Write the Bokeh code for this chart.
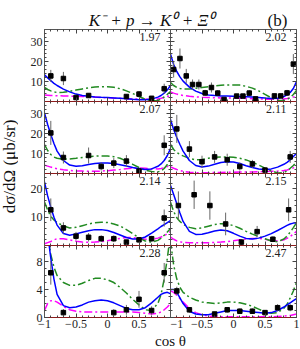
import math
from bokeh.plotting import figure
from bokeh.layouts import row, column
from bokeh.models import LinearAxis, FixedTicker, CustomJSTickFormatter, Label, Range1d
from bokeh.embed import file_html
from bokeh.resources import INLINE

# ---------------- data ----------------
energies = ["1.97", "2.02", "2.07", "2.11", "2.14", "2.15", "2.28", "2.47"]
title_text = "K\u207b + p \u2192 K\u2070 + \u039e\u2070"
panel_tag = "(b)"
x_label = "cos \u03b8"
y_label = "d\u03c3/d\u03a9 (\u03bcb/sr)"

x_major = [-1, -0.5, 0, 0.5, 1]
row_top = [36, 36, 25.4, 10.3]
y_major_rows = [[0, 10, 20, 30], [0, 10, 20, 30], [0, 10, 20], [0, 4, 8]]

curve_x = [-1, -0.95, -0.9, -0.85, -0.8, -0.7, -0.6, -0.5, -0.4, -0.3, -0.2, -0.1, 0,
           0.1, 0.2, 0.3, 0.4, 0.5, 0.6, 0.7, 0.8, 0.85, 0.9, 0.95, 1.0]

blue_197 = [13.3, 11.8, 10.4, 9.1, 8.0, 6.2, 4.8, 3.7, 3.0, 2.6, 2.3, 2.1, 2.0, 1.8, 1.6, 1.4, 1.1, 0.9, 0.85, 1.2, 2.2, 3.0, 4.2, 5.8, 8.0]
green_197 = [7.0, 6.0, 5.3, 4.8, 4.5, 4.6, 5.1, 5.7, 6.3, 6.8, 7.2, 7.4, 7.4, 7.1, 6.4, 5.3, 4.0, 2.5, 1.1, 0.3, 0.5, 1.2, 2.3, 3.6, 5.0]
magenta_197 = [3.2, 3.1, 3.0, 2.95, 2.9, 2.8, 2.7, 2.6, 2.5, 2.4, 2.2, 2.0, 1.9, 1.7, 1.6, 1.4, 1.3, 1.2, 1.1, 1.1, 1.3, 1.6, 2.0, 2.5, 3.0]
pts_x_197 = [-0.9, -0.7, -0.5, -0.3, 0.3, 0.5, 0.7, 0.9]
pts_y_197 = [12.8, 11.5, 2.0, 3.0, 2.5, 3.7, 1.6, 6.4]
pts_e_197 = [3.0, 3.3, 1.0, 1.0, 1.0, 1.5, 1.0, 2.5]

blue_202 = [23.7, 18.5, 15.0, 12.3, 10.2, 7.2, 5.2, 4.0, 3.3, 3.0, 2.8, 2.7, 2.6, 2.5, 2.4, 2.2, 2.0, 1.7, 1.5, 1.6, 2.5, 3.3, 4.5, 6.5, 10.0]
green_202 = [9.5, 8.0, 7.0, 6.5, 6.2, 6.2, 6.6, 7.0, 7.4, 7.8, 8.1, 8.3, 8.3, 8.2, 7.6, 6.7, 5.3, 3.6, 1.8, 0.6, 0.5, 1.0, 2.0, 3.5, 5.5]
magenta_202 = [4.8, 4.2, 3.7, 3.3, 3.0, 2.6, 2.3, 2.1, 2.0, 1.9, 1.8, 1.8, 1.7, 1.6, 1.5, 1.4, 1.3, 1.2, 1.1, 1.1, 1.3, 1.5, 1.8, 2.2, 2.8]
pts_x_202 = [-0.95, -0.85, -0.75, -0.65, -0.55, -0.45, -0.35, -0.25, -0.15, 0.05, 0.15, 0.25, 0.35, 0.65, 0.75, 0.85, 0.95]
pts_y_202 = [16.0, 21.5, 12.8, 8.5, 8.5, 4.3, 7.0, 4.2, 1.0, 2.7, 2.7, 4.2, 1.3, 2.8, 2.8, 4.3, 18.7]
pts_e_202 = [4.0, 5.0, 3.5, 2.5, 2.5, 1.5, 2.5, 1.5, 0.7, 1.0, 1.0, 1.5, 0.7, 1.0, 1.0, 1.5, 5.0]

blue_207 = [30.3, 24.5, 19.5, 15.0, 11.2, 6.5, 4.2, 3.6, 3.9, 4.5, 5.0, 5.3, 5.3, 5.0, 4.4, 3.8, 3.0, 2.4, 2.0, 2.3, 3.6, 4.8, 6.5, 9.0, 12.5]
green_207 = [14.5, 11.5, 9.5, 8.2, 7.6, 7.2, 7.3, 7.6, 8.0, 8.4, 8.7, 8.8, 8.7, 8.4, 7.6, 6.2, 4.6, 3.0, 1.7, 1.0, 0.8, 1.3, 2.5, 4.5, 7.5]
magenta_207 = [4.2, 3.7, 3.2, 2.8, 2.4, 1.9, 1.5, 1.3, 1.2, 1.1, 1.1, 1.2, 1.4, 1.7, 2.0, 2.4, 2.6, 2.7, 2.6, 2.4, 2.3, 2.5, 2.9, 3.5, 4.3]
pts_x_207 = [-0.9, -0.7, -0.3, -0.1, 0.1, 0.3, 0.5, 0.9]
pts_y_207 = [20.3, 8.0, 9.0, 3.5, 5.2, 6.2, 1.2, 14.1]
pts_e_207 = [6.0, 3.0, 4.0, 2.0, 2.5, 3.0, 1.0, 5.0]

blue_211 = [27.0, 22.0, 18.0, 14.5, 11.2, 6.5, 4.0, 3.3, 3.7, 4.6, 5.5, 5.9, 5.8, 5.0, 3.9, 3.0, 2.3, 2.0, 2.3, 3.2, 4.6, 5.6, 6.8, 8.5, 10.0]
green_211 = [14.5, 12.0, 10.5, 9.5, 8.8, 7.5, 6.8, 7.0, 7.6, 8.1, 8.3, 8.3, 8.1, 7.6, 6.8, 5.6, 4.2, 2.7, 1.3, 0.3, 0.5, 1.3, 2.6, 4.0, 5.8]
magenta_211 = [3.3, 2.6, 2.0, 1.5, 1.1, 0.6, 0.4, 0.4, 0.4, 0.5, 0.5, 0.6, 0.6, 0.7, 0.7, 0.8, 0.9, 1.0, 1.1, 1.2, 1.5, 1.8, 2.2, 2.8, 3.5]
pts_x_211 = [-0.9, -0.7, -0.5, -0.3, -0.1, 0.1, 0.3, 0.5, 0.9]
pts_y_211 = [22.3, 12.2, 5.9, 8.3, 6.9, 3.5, 4.8, 1.7, 8.3]
pts_e_211 = [7.0, 4.0, 3.0, 3.0, 3.0, 2.0, 2.0, 1.0, 3.0]

blue_214 = [22.4, 17.5, 13.5, 10.0, 7.2, 4.2, 3.6, 4.1, 4.7, 5.2, 5.6, 5.6, 5.3, 4.6, 3.7, 2.8, 2.3, 2.3, 3.0, 4.4, 5.9, 6.7, 7.4, 8.1, 8.8]
green_214 = [15.3, 12.5, 10.3, 9.0, 8.1, 6.9, 6.2, 6.4, 7.0, 7.6, 8.0, 8.2, 8.1, 7.6, 6.9, 5.6, 4.2, 2.7, 1.6, 1.2, 1.8, 2.6, 3.6, 4.8, 6.0]
magenta_214 = [0.6, 1.0, 1.4, 2.0, 2.4, 2.4, 2.0, 1.5, 1.2, 1.1, 1.2, 1.4, 1.7, 2.1, 2.5, 2.8, 2.8, 2.5, 2.2, 2.2, 2.6, 3.0, 3.5, 4.2, 5.0]
pts_x_214 = [-0.9, -0.7, -0.5, -0.3, -0.1, 0.1, 0.3, 0.5, 0.7, 0.9]
pts_y_214 = [12.6, 6.2, 3.3, 2.9, 2.4, 2.4, 1.2, 2.0, 2.4, 9.7]
pts_e_214 = [4.0, 2.0, 1.5, 1.5, 1.2, 1.2, 0.7, 1.0, 1.0, 3.0]

blue_215 = [21.2, 18.0, 14.7, 11.5, 8.5, 5.0, 3.9, 4.0, 4.5, 5.1, 5.5, 5.2, 4.3, 3.3, 2.5, 2.3, 2.6, 3.3, 4.2, 5.3, 6.5, 7.1, 7.6, 7.9, 8.0]
green_215 = [15.3, 12.0, 9.8, 8.5, 7.5, 6.4, 5.9, 6.2, 6.8, 7.4, 7.7, 7.6, 7.0, 6.1, 5.0, 4.0, 3.2, 2.4, 1.6, 1.3, 2.3, 3.3, 4.7, 6.3, 8.0]
magenta_215 = [3.0, 2.2, 1.6, 1.3, 1.1, 1.0, 1.0, 1.0, 1.0, 1.1, 1.2, 1.4, 1.7, 2.0, 2.3, 2.5, 2.5, 2.2, 1.8, 1.6, 2.0, 2.5, 3.2, 4.0, 5.0]
pts_x_215 = [-0.875, -0.625, -0.375, -0.125, 0.125, 0.375, 0.625, 0.875]
pts_y_215 = [14.1, 17.9, 14.1, 7.6, 1.2, 4.9, 2.2, 12.6]
pts_e_215 = [5.0, 5.0, 5.0, 4.0, 1.0, 2.0, 1.0, 4.0]

blue_228 = [16.0, 12.0, 8.5, 5.5, 3.3, 1.7, 1.4, 1.5, 1.8, 2.2, 2.4, 2.5, 2.4, 2.1, 1.7, 1.3, 1.1, 1.1, 1.4, 2.1, 2.9, 3.3, 3.5, 3.6, 3.4]
green_228 = [16.0, 12.0, 9.0, 7.2, 6.0, 5.0, 4.6, 4.6, 4.9, 5.3, 5.6, 5.6, 5.4, 5.0, 4.3, 3.5, 2.6, 1.8, 1.1, 1.0, 2.0, 3.3, 5.5, 8.5, 12.0]
magenta_228 = [1.0, 2.0, 2.4, 2.4, 2.2, 1.6, 1.1, 0.9, 0.8, 0.8, 0.8, 0.8, 0.8, 0.8, 0.8, 0.8, 0.8, 0.7, 0.6, 0.5, 0.6, 0.8, 1.1, 1.5, 2.0]
pts_x_228 = [-0.9, -0.7, 0.1, 0.3, 0.5, 0.7, 0.9]
pts_y_228 = [6.4, 0.7, 0.7, 1.1, 2.6, 1.0, 6.4]
pts_e_228 = [1.7, 0.5, 0.5, 0.7, 1.2, 0.6, 1.4]

blue_247 = [4.0, 4.0, 3.6, 2.8, 2.0, 0.9, 0.5, 0.4, 0.4, 0.6, 0.8, 1.0, 1.0, 1.0, 0.9, 0.8, 0.7, 0.6, 0.7, 1.0, 1.5, 1.8, 2.1, 2.4, 2.7]
green_247 = [11.0, 7.5, 5.5, 4.3, 3.6, 2.9, 2.5, 2.2, 2.1, 2.0, 2.1, 2.2, 2.2, 2.1, 1.9, 1.6, 1.2, 0.8, 0.6, 0.7, 1.3, 1.9, 2.8, 3.8, 5.0]
magenta_247 = [3.8, 3.6, 3.2, 2.7, 2.2, 1.3, 0.7, 0.4, 0.2, 0.15, 0.1, 0.1, 0.1, 0.1, 0.1, 0.1, 0.1, 0.1, 0.1, 0.15, 0.2, 0.25, 0.3, 0.4, 0.5]
pts_x_247 = [-0.9, -0.7, -0.3, -0.1, 0.1, 0.3, 0.5, 0.7, 0.9]
pts_y_247 = [3.8, 1.1, 0.5, 1.1, 0.9, 0.9, 0.7, 1.4, 1.4]
pts_e_247 = [0.6, 0.4, 0.3, 0.4, 0.4, 0.4, 0.3, 0.5, 0.5]

panels = [
    (blue_197, green_197, magenta_197, pts_x_197, pts_y_197, pts_e_197),
    (blue_202, green_202, magenta_202, pts_x_202, pts_y_202, pts_e_202),
    (blue_207, green_207, magenta_207, pts_x_207, pts_y_207, pts_e_207),
    (blue_211, green_211, magenta_211, pts_x_211, pts_y_211, pts_e_211),
    (blue_214, green_214, magenta_214, pts_x_214, pts_y_214, pts_e_214),
    (blue_215, green_215, magenta_215, pts_x_215, pts_y_215, pts_e_215),
    (blue_228, green_228, magenta_228, pts_x_228, pts_y_228, pts_e_228),
    (blue_247, green_247, magenta_247, pts_x_247, pts_y_247, pts_e_247),
]

# ---------------- style / layout ----------------
FONT = "Liberation Serif"
FRAME_W = 126
ROW_H = 72
YLAB_W = 18
LEFT_B = 26
RIGHT_B = 4
BOTTOM_B = 15
TITLE_H = 29
XLAB_H = 17
TOTAL_W = YLAB_W + LEFT_B + 2 * FRAME_W + RIGHT_B
FRAME_COL = "#555555"
ZERO_COL = "#8b1c1c"
TICK_COL = "#444444"

x_minor = [round(-1 + 0.1 * k, 1) for k in range(21)]
y_minor_rows = [list(range(0, 36, 2)), list(range(0, 36, 2)), list(range(0, 26, 2)), list(range(0, 11, 1))]

X_FMT_LEFT = "if (tick > 0.99) return ''; return (tick < 0 ? '\u2212' : '') + Math.abs(tick);"
X_FMT_RIGHT = "return (tick < 0 ? '\u2212' : '') + Math.abs(tick);"
Y_FMT_NOZERO = "if (Math.abs(tick) < 1e-9) return ''; return '' + tick;"
Y_FMT_ALL = "return '' + tick;"
NO_FMT = "return '';"


def style_axis(ax, show, code, line_color, line_width=1):
    ax.major_tick_in = 4
    ax.major_tick_out = 0
    ax.minor_tick_in = 2
    ax.minor_tick_out = 0
    ax.major_tick_line_color = TICK_COL
    ax.minor_tick_line_color = TICK_COL
    ax.axis_line_color = line_color
    ax.axis_line_width = line_width
    if show:
        ax.major_label_standoff = 2
        ax.major_label_text_font = FONT
        ax.major_label_text_font_size = "12px"
        ax.major_label_text_color = "#222222"
        ax.formatter = CustomJSTickFormatter(code=code)
    else:
        ax.major_label_standoff = 0
        ax.major_label_text_font_size = "0px"
        ax.formatter = CustomJSTickFormatter(code=NO_FMT)


def make_panel(idx):
    r, c = divmod(idx, 2)
    left = c == 0
    bottom = r == 3
    blue, green, magenta, px, py, pe = panels[idx]
    p = figure(width=FRAME_W + (LEFT_B if left else RIGHT_B),
               height=ROW_H + (BOTTOM_B if bottom else 0),
               x_range=Range1d(-1, 1), y_range=Range1d(0, row_top[r]),
               x_axis_type=None, y_axis_type=None,
               toolbar_location=None, output_backend="svg",
               min_border_left=LEFT_B if left else 0,
               min_border_right=0 if left else RIGHT_B,
               min_border_top=0,
               min_border_bottom=BOTTOM_B if bottom else 0)
    p.outline_line_color = None
    p.background_fill_color = "white"
    p.border_fill_color = "white"

    xt = FixedTicker(ticks=x_major, minor_ticks=x_minor)
    yt = FixedTicker(ticks=y_major_rows[r], minor_ticks=y_minor_rows[r])

    ax_b = LinearAxis(ticker=xt)
    style_axis(ax_b, bottom, X_FMT_LEFT if left else X_FMT_RIGHT, ZERO_COL, 1.2)
    p.add_layout(ax_b, "below")
    ax_t = LinearAxis(ticker=xt)
    style_axis(ax_t, False, NO_FMT, ZERO_COL if r > 0 else FRAME_COL, 1.2 if r > 0 else 1)
    p.add_layout(ax_t, "above")
    ax_l = LinearAxis(ticker=yt)
    style_axis(ax_l, left, Y_FMT_ALL if bottom else Y_FMT_NOZERO, FRAME_COL)
    p.add_layout(ax_l, "left")
    ax_r = LinearAxis(ticker=yt)
    style_axis(ax_r, False, NO_FMT, FRAME_COL)
    p.add_layout(ax_r, "right")

    p.line(curve_x, magenta, line_color="#ff00ff", line_width=1.5, line_dash="8 3 2 3")
    p.line(curve_x, green, line_color="#228b22", line_width=1.5, line_dash="8 3 2 3")
    p.line(curve_x, blue, line_color="#0000ff", line_width=1.5)
    lo = [y - e for y, e in zip(py, pe)]
    hi = [y + e for y, e in zip(py, pe)]
    p.segment(x0=px, y0=lo, x1=px, y1=hi, line_color="#666666", line_width=1)
    p.scatter(px, py, marker="square", size=4.5, fill_color="black", line_color="black")

    p.add_layout(Label(x=1, y=row_top[r], text=energies[idx], text_align="right",
                       text_baseline="top", x_offset=-10, y_offset=-3,
                       text_font=FONT, text_font_size="12px", text_color="#222222"))
    return p


def blank_fig(w, h):
    f = figure(width=w, height=h, x_range=Range1d(0, w), y_range=Range1d(0, h),
               x_axis_type=None, y_axis_type=None, toolbar_location=None,
               output_backend="svg", min_border=0)
    f.outline_line_color = None
    f.background_fill_color = "white"
    f.border_fill_color = "white"
    return f


panel_figs = [make_panel(i) for i in range(8)]
grid = column(*[row(panel_figs[2 * k], panel_figs[2 * k + 1]) for k in range(4)])

inner_w = TOTAL_W - YLAB_W
tf = blank_fig(inner_w, TITLE_H)
tf.add_layout(Label(x=133, y=9, text=title_text, text_align="center", text_baseline="alphabetic",
                    text_font=FONT, text_font_style="italic", text_font_size="17px", text_color="#111111"))
tf.add_layout(Label(x=259, y=9, text=panel_tag, text_align="center", text_baseline="alphabetic",
                    text_font=FONT, text_font_size="17px", text_color="#111111"))

xf = blank_fig(inner_w, XLAB_H)
xf.add_layout(Label(x=152, y=8.5, text=x_label, text_align="center", text_baseline="middle",
                    text_font=FONT, text_font_size="15px", text_color="#111111"))

total_h = TITLE_H + 4 * ROW_H + BOTTOM_B + XLAB_H
yf = blank_fig(YLAB_W, total_h)
yf.add_layout(Label(x=9, y=total_h - 166, text=y_label, angle=math.pi / 2, text_align="center",
                    text_baseline="middle", text_font=FONT, text_font_size="17px", text_color="#111111"))

layout = row(yf, column(tf, grid, xf))

open("out.html", "w").write(file_html(layout, INLINE, "plot"))
